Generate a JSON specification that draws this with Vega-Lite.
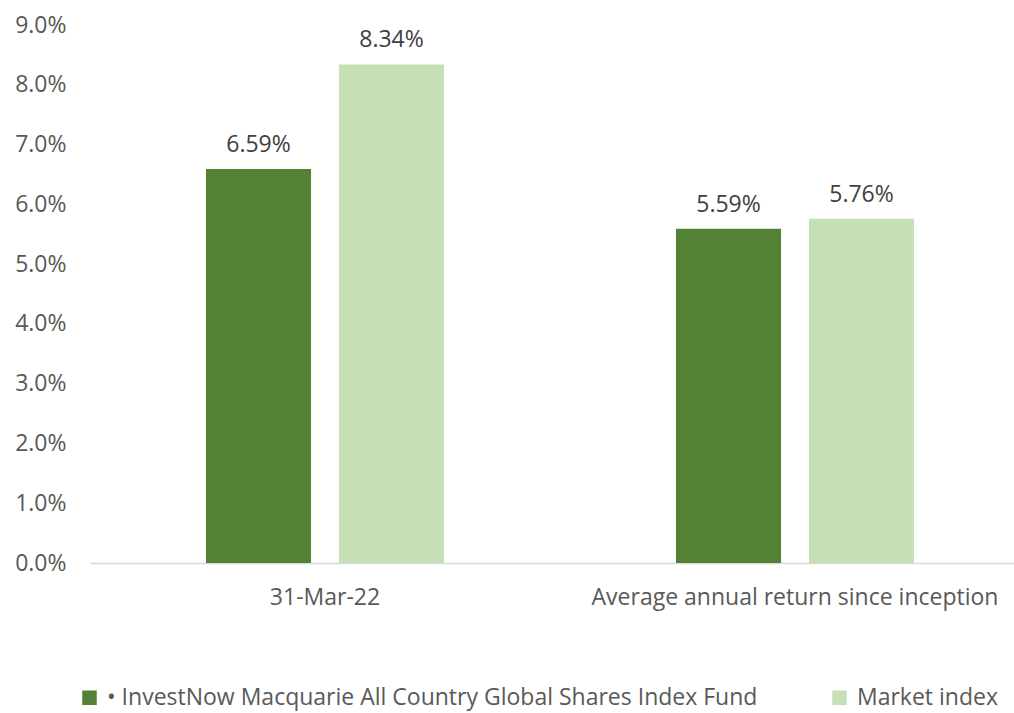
{
  "$schema": "https://vega.github.io/schema/vega-lite/v6.json",
  "autosize": "none",
  "width": 940,
  "height": 538,
  "padding": {"left": 90, "top": 25, "right": 0, "bottom": 150},
  "background": "white",
  "config": {"view": {"stroke": null}, "font": "Open Sans"},
  "data": {"values": [
    {"period": "31-Mar-22", "series": "• InvestNow Macquarie All Country Global Shares Index Fund", "value": 0.0659, "label": "6.59%"},
    {"period": "31-Mar-22", "series": "Market index", "value": 0.0834, "label": "8.34%"},
    {"period": "Average annual return since inception", "series": "• InvestNow Macquarie All Country Global Shares Index Fund", "value": 0.0559, "label": "5.59%"},
    {"period": "Average annual return since inception", "series": "Market index", "value": 0.0576, "label": "5.76%"}
  ]},
  "encoding": {
    "x": {"field": "period", "type": "nominal", "sort": null,
      "scale": {"paddingInner": 0, "paddingOuter": 0},
      "axis": {"title": null, "labelAngle": 0, "ticks": false, "domainColor": "#d9d9d9", "domainWidth": 1.5,
        "labelFont": "Open Sans", "labelFontSize": 23, "labelColor": "#595959", "labelPadding": 23, "labelLimit": 600}},
    "xOffset": {"field": "series", "type": "nominal", "sort": null,
      "scale": {"paddingInner": 0.21, "paddingOuter": 0.872}},
    "y": {"field": "value", "type": "quantitative",
      "scale": {"domain": [0, 0.09], "nice": false},
      "axis": {"title": null, "format": ".1%", "values": [0,0.01,0.02,0.03,0.04,0.05,0.06,0.07,0.08,0.09],
        "labelOverlap": false, "grid": false, "domain": false, "ticks": false, "labelFont": "Open Sans", "labelFontSize": 23, "labelColor": "#595959", "labelPadding": 24}}
  },
  "layer": [
    {"mark": {"type": "bar"},
     "encoding": {
       "color": {"field": "series", "type": "nominal", "sort": null,
         "scale": {"range": ["#548235", "#C5E0B4"]},
         "legend": {"title": null, "orient": "none", "direction": "horizontal", "legendX": -12, "legendY": 661,
           "symbolType": "square", "symbolSize": 210, "symbolStrokeWidth": 0, "labelFont": "Open Sans", "labelFontSize": 23,
           "labelColor": "#595959", "labelLimit": 800, "columnPadding": 70, "labelOffset": 6}}
     }},
    {"mark": {"type": "text", "baseline": "bottom", "dy": -12, "font": "Open Sans", "fontSize": 23, "color": "#404040"},
     "encoding": {"text": {"field": "label"}}}
  ]
}
